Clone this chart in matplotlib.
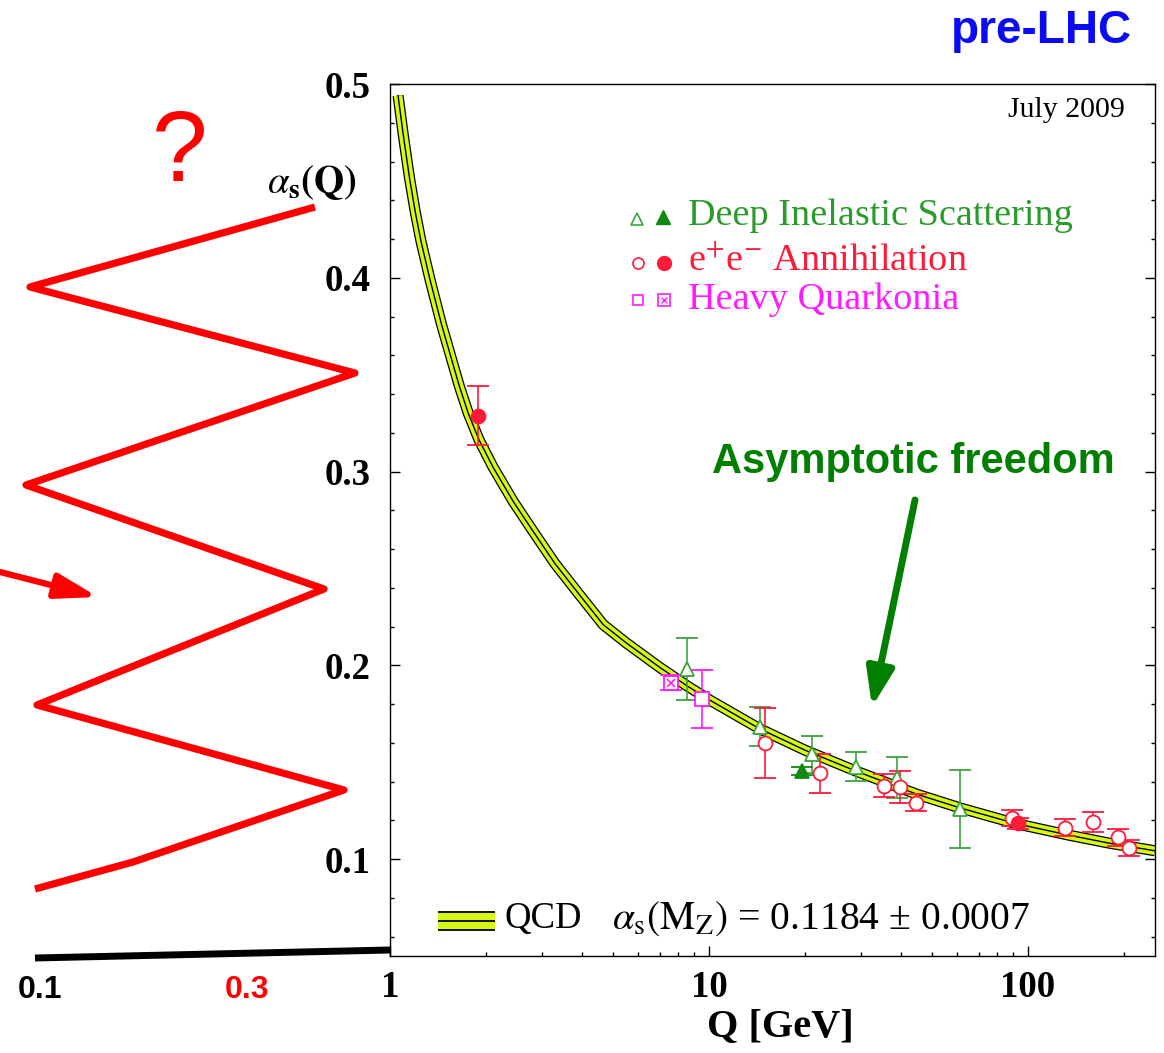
import matplotlib
matplotlib.use("Agg")
import matplotlib.pyplot as plt
from matplotlib.ticker import MultipleLocator, LogLocator, NullFormatter

# ── Données ───────────────────────────────────────────────────────────────────
# bande QCD (centre), alpha_s(Q)
qcd_q = [1.06, 1.10, 1.15, 1.20, 1.25, 1.335, 1.45, 1.553, 1.65, 1.76, 1.90,
         2.10, 2.435, 2.80, 3.29, 3.90, 4.66, 5.50, 7.0, 8.5, 10.0, 14.4,
         20.0, 28.8, 44.8, 61.0, 91.2, 133.0, 180.0, 250.0]
qcd_a = [0.494, 0.474, 0.452, 0.434, 0.419, 0.399, 0.376, 0.359, 0.344, 0.330,
         0.3165, 0.3025, 0.2845, 0.2695, 0.2525, 0.237, 0.221, 0.2116, 0.199,
         0.1896, 0.1823, 0.1673, 0.1562, 0.1455, 0.1335, 0.1265, 0.1184,
         0.1125, 0.1082, 0.1043]

# Deep Inelastic Scattering
dis_q = [8.5, 14.4, 21.1, 28.8, 38.8, 61.1]
dis_a = [0.1983, 0.1684, 0.1541, 0.1476, 0.1421, 0.1258]
dis_e = [0.016, 0.010, 0.0095, 0.0075, 0.0105, 0.020]
dis_full_q = [19.6]
dis_full_a = [0.1455]
dis_full_e = [0.002]

# e+e- Annihilation
ee_q = [15.0, 22.3, 35.4, 39.8, 44.5, 89.1, 130.7, 159.6, 191.5, 207.0]
ee_a = [0.1598, 0.1442, 0.1378, 0.1373, 0.1292, 0.1211, 0.1163, 0.1192, 0.1112, 0.1057]
ee_e = [0.018, 0.010, 0.006, 0.0084, 0.0045, 0.004, 0.0045, 0.0053, 0.0043, 0.004]
ee_full_q = [1.89, 93.0]
ee_full_a = [0.3289, 0.1184]
ee_full_e = [0.015, 0.003]

# Heavy Quarkonia
hq_q = [9.54]
hq_a = [0.1828]
hq_e = [0.015]
hq_x_q = [7.6]
hq_x_a = [0.1911]
hq_x_e = [0.004]

# annotations dessinées à la main (pixels de l'image)
zigzag_x = [315, 30, 355, 26, 324, 37, 344, 133, 35]
zigzag_y = [207, 287, 373, 485, 589, 705, 790, 862, 889]

# ── Couleurs ───────────────────────────────────────────────────────────────────
RED = "#ff1a3a"
GREEN = "#3da33d"
GREEN_DARK = "#118a11"
MAGENTA = "#ff1aff"
YELLOW = "#d6f814"
ARROW_GREEN = "#007f00"

W, H = 1164, 1053
plt.rcParams["font.family"] = ["Liberation Serif", "DejaVu Serif"]
plt.rcParams["mathtext.fontset"] = "stix"

fig = plt.figure(figsize=(W / 100, H / 100), dpi=100)
ax = fig.add_axes([390 / W, (H - 956) / H, (1155 - 390) / W, (956 - 84) / H])

# bande QCD : bord noir, jaune, ligne centrale
ax.plot(qcd_q, qcd_a, color="black", lw=8.0, solid_capstyle="butt",
        solid_joinstyle="round", zorder=2)
ax.plot(qcd_q, qcd_a, color=YELLOW, lw=6.2, solid_capstyle="butt",
        solid_joinstyle="round", zorder=2)
ax.plot(qcd_q, qcd_a, color="black", lw=1.0, zorder=2)

eb = dict(ls="none", capsize=8, elinewidth=1.2, capthick=1.2, mew=1.3, zorder=4)
ax.errorbar(dis_q, dis_a, yerr=dis_e, marker="^", ms=10, mfc="white",
            mec=GREEN, ecolor=GREEN, **eb)
ax.errorbar(dis_full_q, dis_full_a, yerr=dis_full_e, marker="^", ms=10,
            color=GREEN_DARK, **eb)
ax.errorbar(ee_q, ee_a, yerr=ee_e, marker="o", ms=10, mfc="white",
            mec=RED, ecolor=RED, **eb)
ax.errorbar(ee_full_q, ee_full_a, yerr=ee_full_e, marker="o", ms=10,
            color=RED, **eb)
ax.errorbar(hq_q, hq_a, yerr=hq_e, marker="s", ms=10, mfc="white",
            mec=MAGENTA, ecolor=MAGENTA, **eb)
ax.errorbar(hq_x_q, hq_x_a, yerr=hq_x_e, marker="s", ms=10, mfc="white",
            mec=MAGENTA, ecolor=MAGENTA, **eb)
ax.plot(hq_x_q, hq_x_a, ls="none", marker="x", ms=6, mew=1.2, color=MAGENTA, zorder=5)

ax.set_xscale("log")
ax.set_xlim(1, 250)
ax.set_ylim(0.05, 0.5)
ax.set_xticks([1, 10, 100], labels=["1", "10", "100"])
ax.xaxis.set_minor_locator(LogLocator(base=10, subs=range(2, 10)))
ax.xaxis.set_minor_formatter(NullFormatter())
ax.yaxis.set_minor_locator(MultipleLocator(0.02))
ax.set_yticks([0.1, 0.2, 0.3, 0.4, 0.5], labels=["0.1", "0.2", "0.3", "0.4", "0.5"])
ax.tick_params(which="both", direction="in", right=True, top=False,
               labelsize=26.5, width=1.0)
ax.tick_params(which="major", length=7)
ax.tick_params(which="minor", length=3)
ax.tick_params(axis="y", pad=14)
ax.tick_params(axis="x", pad=10)
for lbl in ax.get_xticklabels() + ax.get_yticklabels():
    lbl.set_fontweight("bold")
for sp in ax.spines.values():
    sp.set_linewidth(1.0)
ax.set_xlabel("Q [GeV]", fontsize=29, fontweight="bold")
ax.xaxis.set_label_coords(0.51, -0.06)

# ── Surcouche en pixels ───────────────────────────────────────────────────────
ov = fig.add_axes([0, 0, 1, 1])
ov.set_xlim(0, W)
ov.set_ylim(H, 0)
ov.axis("off")

ov.text(1125, 110, "July 2009", fontsize=21.5, ha="right", va="center")

# légende
ov.plot([637], [219], marker="^", ms=8, mfc="white", mec=GREEN, mew=1.2)
ov.plot([663], [217], marker="^", ms=10, color=GREEN_DARK)
ov.text(688, 216, "Deep Inelastic Scattering", fontsize=27.5, color="#2a9a2a",
        va="center")
ov.plot([638], [263], marker="o", ms=8, mfc="white", mec=RED, mew=1.2)
ov.plot([664], [263], marker="o", ms=10, color=RED)
ov.text(688, 261, r"e$^{+}$e$^{-}$ Annihilation", fontsize=27.5, color=RED,
        va="center")
ov.plot([638], [300], marker="s", ms=7, mfc="white", mec=MAGENTA, mew=1.2)
ov.plot([664], [300], marker="s", ms=8, mfc="white", mec=MAGENTA, mew=1.2)
ov.plot([664], [300], marker="x", ms=5, mew=1.0, color=MAGENTA)
ov.text(688, 300, "Heavy Quarkonia", fontsize=27.5, color=MAGENTA, va="center")

# légende QCD
ov.fill_between([438, 495], 911, 930, color=YELLOW, lw=0)
ov.hlines([911.5, 920.5, 929.5], 438, 495, color="black", lw=1.3)
ov.text(505, 919, "QCD", fontsize=26.5, va="center")
ov.text(612, 919, r"$\alpha_\mathrm{s}(\mathrm{M_Z})$ = 0.1184 ± 0.0007",
        fontsize=28.5, va="center")

# titre de l'axe y
ov.text(312, 182, r"$\alpha_{\mathbf{s}}\mathbf{(Q)}$", fontsize=28,
        ha="center", va="center")

# asymptotic freedom
ov.text(913, 473, "Asymptotic freedom", fontsize=30, fontweight="bold",
        color=ARROW_GREEN, ha="center", va="baseline", family="Liberation Sans")
ov.annotate("", xy=(872, 707), xytext=(915, 500),
            arrowprops=dict(arrowstyle="-|>,head_length=0.92,head_width=0.33",
                            lw=5, color=ARROW_GREEN, mutation_scale=25,
                            shrinkA=0, shrinkB=0))

ov.text(1132, 43, "pre-LHC", fontsize=33, fontweight="bold", color="#0a0af5",
        ha="right", va="baseline", family="Liberation Sans")

# zigzag rouge, flèche, axe noir
ov.plot(zigzag_x, zigzag_y, color="#ff0000", lw=5.2, solid_joinstyle="round",
        solid_capstyle="butt")
ov.annotate("", xy=(98, 597), xytext=(0, 572),
            arrowprops=dict(arrowstyle="-|>,head_length=1.0,head_width=0.3",
                            lw=4.5, color="#ff0000", mutation_scale=25,
                            shrinkA=0, shrinkB=0))
ov.plot([35, 390], [958, 950], color="black", lw=5, solid_capstyle="butt")
ov.text(180, 155, "?", fontsize=72, color="#ff0000", ha="center", va="center",
        family="Liberation Sans")
ov.text(40, 990, "0.1", fontsize=23, fontweight="bold", color="black",
        ha="center", va="center", family="Liberation Sans")
ov.text(247, 990, "0.3", fontsize=23, fontweight="bold", color="#ff0000",
        ha="center", va="center", family="Liberation Sans")

fig.savefig("out.png", dpi=100)
